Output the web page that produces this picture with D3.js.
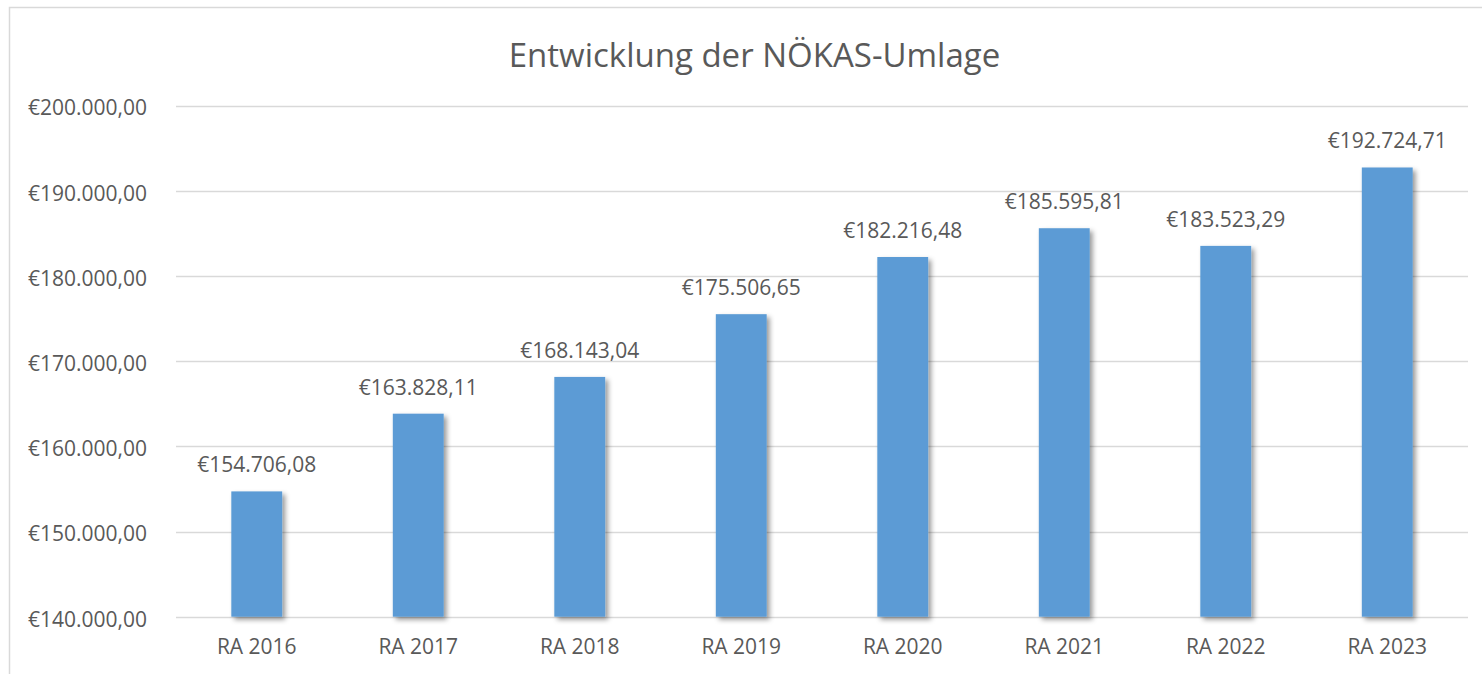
<!DOCTYPE html>
<html><head><meta charset="utf-8">
<script src="https://cdn.jsdelivr.net/npm/d3@7"></script>
<style>
html,body{margin:0;padding:0;background:#fff;}
svg{display:block;}
text{font-family:"Open Sans",sans-serif;fill:#595959;}
</style></head>
<body>
<svg id="chart" width="1482" height="674"></svg>
<script>
const categories = ["RA 2016","RA 2017","RA 2018","RA 2019","RA 2020","RA 2021","RA 2022","RA 2023"];
const values = [154706.08,163828.11,168143.04,175506.65,182216.48,185595.81,183523.29,192724.71];
const yTicks = [140000,150000,160000,170000,180000,190000,200000];
const title = "Entwicklung der NÖKAS-Umlage";

const svg = d3.select("#chart");
const W = 1482, H = 674;
const m = {left:176, right:14, top:105.5, bottom:57.3};

const defs = svg.append("defs");
const f = defs.append("filter").attr("id","sh").attr("x","-30%").attr("y","-10%").attr("width","160%").attr("height","130%");
f.append("feDropShadow").attr("dx",3).attr("dy",3).attr("stdDeviation",2.5).attr("flood-color","#000").attr("flood-opacity",0.4);

// frame
svg.append("rect").attr("x",9.5).attr("y",7.5).attr("width",W).attr("height",H)
  .attr("fill","none").attr("stroke","#d9d9d9").attr("stroke-width",1.5);

const x = d3.scaleBand().domain(categories).range([m.left, W-m.right]).paddingInner(0.685).paddingOuter(0.3425);
const y = d3.scaleLinear().domain([140000,200000]).range([H-m.bottom, m.top]);

const loc = d3.formatLocale({decimal:",",thousands:".",grouping:[3],currency:["€",""]});
const fmt = v => "€" + loc.format(",.2f")(v);

// gridlines
svg.append("g").selectAll("line").data(yTicks).join("line")
  .attr("x1",m.left).attr("x2",W-m.right)
  .attr("y1",d=>Math.round(y(d))+0.5).attr("y2",d=>Math.round(y(d))+0.5)
  .attr("stroke","#d9d9d9").attr("stroke-width",1.3);

// y axis labels
const yAxis = d3.axisLeft(y).tickValues(yTicks).tickSize(0).tickPadding(0).tickFormat(fmt);
const ga = svg.append("g").attr("transform",`translate(147,0)`).call(yAxis);
ga.select(".domain").remove();
ga.selectAll("text").attr("font-size",21).attr("fill","#595959").attr("font-family","'Open Sans',sans-serif").attr("dy","0.45em");

// bars
svg.append("g").selectAll("rect").data(values).join("rect")
  .attr("x",(d,i)=>x(categories[i])).attr("width",x.bandwidth())
  .attr("y",d=>y(d)).attr("height",d=>y(140000)-y(d))
  .attr("fill","#5b9bd5").attr("filter","url(#sh)");

// data labels
svg.append("g").selectAll("text").data(values).join("text")
  .attr("x",(d,i)=>x(categories[i])+x.bandwidth()/2).attr("y",d=>y(d)-19)
  .attr("text-anchor","middle").attr("font-size",21).text(fmt);

// x axis
const xAxis = d3.axisBottom(x).tickSize(0).tickPadding(0);
const gx = svg.append("g").attr("transform",`translate(0,${H-m.bottom+37})`).call(xAxis);
gx.select(".domain").remove();
gx.selectAll("text").attr("font-size",21).attr("fill","#595959").attr("font-family","'Open Sans',sans-serif").attr("dy",0);

// title
svg.append("text").attr("x",754.5).attr("y",66.5).attr("text-anchor","middle").attr("font-size",33).text(title);
</script>
</body></html>
